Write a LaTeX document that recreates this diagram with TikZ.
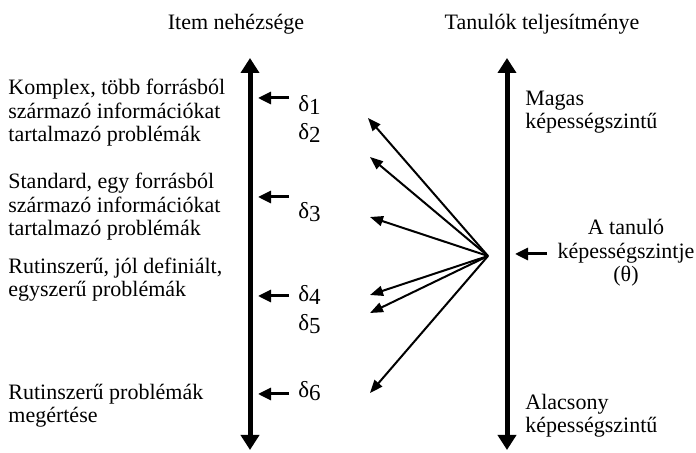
\documentclass[tikz,border=0pt]{standalone}
\usepackage{fontspec}
\setmainfont{Liberation Serif}
\usetikzlibrary{arrows.meta}
\begin{document}
\begin{tikzpicture}[x=0.5pt,y=-0.5pt,
  lbl/.style={font=\fontsize{11}{11.75}\selectfont, align=left, inner sep=0pt, anchor=base west},
  ttl/.style={font=\fontsize{11}{11.75}\selectfont, inner sep=0pt, anchor=base},
  dlt/.style={font=\fontsize{11.5}{11.75}\selectfont, inner sep=0pt, anchor=base west},
  axisline/.style={line width=2.5pt, {Triangle[length=7.5pt,width=9pt]}-{Triangle[length=7.5pt,width=9pt]}},
  tick/.style={line width=1.5pt, -{Triangle[length=6.5pt,width=6pt]}},
  fan/.style={line width=1pt, -{Triangle[length=6.5pt,width=5pt]}}
]
\useasboundingbox (0,0) rectangle (696,453);
% titles
\node[ttl] (t1) at (236,30) {Item nehézsége};
\node[ttl] (t2) at (542,30) {Tanulók teljesítménye};
% axes
\coordinate (la) at (250,58);
\coordinate (lb) at (250,450);
\coordinate (ra) at (507,58);
\coordinate (rb) at (507,450);
\draw[axisline] (lb) -- (la);
\draw[axisline] (rb) -- (ra);
% left texts (base anchor = baseline of last line)
\node[lbl] (k1) at (8,142) {Komplex, több forrásból\\származó információkat\\tartalmazó problémák};
\node[lbl] (k2) at (8,236) {Standard, egy forrásból\\származó információkat\\tartalmazó problémák};
\node[lbl] (k3) at (8,297) {Rutinszerű, jól definiált,\\egyszerű problémák};
\node[lbl] (k4) at (8,423) {Rutinszerű problémák\\megértése};
% deltas
\node[dlt] (d1) at (298,112) {δ\raisebox{-0.25ex}{1}};
\node[dlt] (d2) at (298,140) {δ\raisebox{-0.25ex}{2}};
\node[dlt] (d3) at (298,219) {δ\raisebox{-0.25ex}{3}};
\node[dlt] (d4) at (298,302) {δ\raisebox{-0.25ex}{4}};
\node[dlt] (d5) at (298,331) {δ\raisebox{-0.25ex}{5}};
\node[dlt] (d6) at (298,398) {δ\raisebox{-0.25ex}{6}};
% small arrows on left axis
\coordinate (a1s) at (289,98);  \coordinate (a1e) at (258,98);
\coordinate (a2s) at (289,197); \coordinate (a2e) at (258,197);
\coordinate (a3s) at (289,296); \coordinate (a3e) at (258,296);
\coordinate (a4s) at (289,394); \coordinate (a4e) at (258,394);
\draw[tick] (a1s) -- (a1e);
\draw[tick] (a2s) -- (a2e);
\draw[tick] (a3s) -- (a3e);
\draw[tick] (a4s) -- (a4e);
% right texts
\node[lbl] (m1) at (525,129) {Magas\\képességszintű};
\node[lbl] (m2) at (525,433) {Alacsony\\képességszintű};
\node[lbl, align=center, anchor=base] (th) at (626,282) {A tanuló\\képességszintje\\(θ)};
\coordinate (bs) at (547,254); \coordinate (be) at (515,254);
\draw[tick] (bs) -- (be);
% fan
\coordinate (src) at (488,256);
\coordinate (f1) at (368,118);
\coordinate (f2) at (370,157);
\coordinate (f3) at (370,217);
\coordinate (f4) at (370,295);
\coordinate (f5) at (370,313);
\coordinate (f6) at (370,393);
\foreach \f in {f1,f2,f3,f4,f5,f6} \draw[fan] (src) -- (\f);
\end{tikzpicture}
\end{document}
